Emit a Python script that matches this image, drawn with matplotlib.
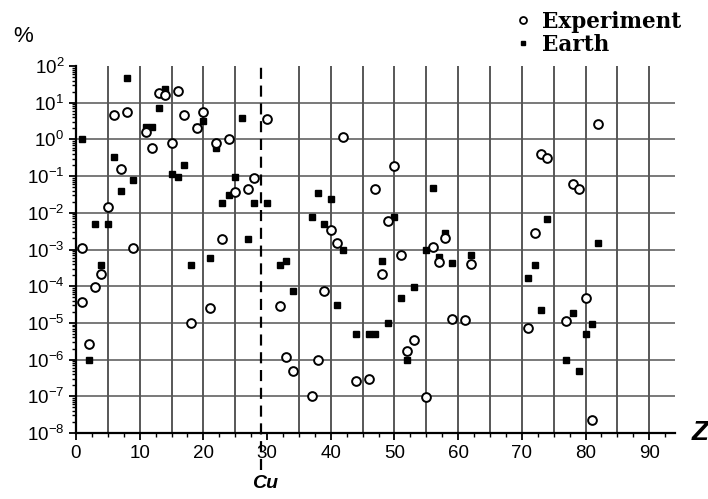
import matplotlib
matplotlib.use('Agg')
import matplotlib.pyplot as plt
import matplotlib.transforms as mtransforms
from matplotlib.lines import Line2D
from matplotlib.ticker import LogLocator, MultipleLocator, NullFormatter

plt.rcParams['font.family'] = ['Liberation Sans', 'DejaVu Sans']
plt.rcParams['mathtext.default'] = 'regular'

# [1] 데이터 : 원소번호 Z , 함량 %
exp_z = [1, 1, 2, 3, 4, 5, 6, 7, 8, 9, 11, 12, 13, 14, 15, 16, 17, 18, 19, 20,
         21, 22, 23, 24, 25, 27, 28, 30, 32, 33, 34, 37, 38, 39, 40, 41, 42,
         44, 46, 47, 48, 49, 50, 51, 52, 53, 55, 56, 57, 58, 59, 61, 62,
         71, 72, 73, 74, 77, 78, 79, 80, 81, 82]
exp_pct = [1.1e-3, 3.8e-5, 2.6e-6, 9.3e-5, 2.2e-4, 1.4e-2, 4.6, 0.16, 5.7, 1.1e-3,
           1.55, 0.59, 18.8, 16, 0.81, 21, 4.6, 1e-5, 2.0, 5.7,
           2.6e-5, 0.81, 1.9e-3, 1.0, 0.036, 0.044, 0.091, 3.6, 2.9e-5, 1.15e-6,
           5e-7, 1e-7, 1e-6, 7.5e-5, 3.4e-3, 1.5e-3, 1.2,
           2.6e-7, 3e-7, 0.045, 2.1e-4, 6e-3, 0.19, 7e-4, 1.7e-6, 3.5e-6,
           9.5e-8, 1.2e-3, 4.6e-4, 2.1e-3, 1.26e-5, 1.2e-5, 4e-4,
           7.1e-6, 2.9e-3, 0.40, 0.31, 1.1e-5, 0.061, 0.044, 4.7e-5, 2.3e-8, 2.6]

earth_z = [1, 2, 3, 4, 5, 6, 7, 8, 9, 11, 12, 13, 14, 15, 16, 17, 18, 19, 20,
           21, 22, 23, 24, 25, 26, 27, 28, 30, 32, 33, 34, 37, 38, 39, 40, 41,
           42, 44, 46, 47, 48, 49, 50, 51, 52, 53, 55, 56, 57, 58, 59, 62,
           71, 72, 73, 74, 77, 78, 79, 80, 81, 82]
earth_pct = [1.0, 1e-6, 4.9e-3, 3.8e-4, 4.9e-3, 0.34, 0.039, 48, 0.079, 2.2,
             2.2, 7, 24, 0.115, 0.095, 0.195, 3.7e-4, 2.2, 3.2,
             5.9e-4, 0.59, 0.019, 0.03, 0.095, 3.9, 1.9e-3, 0.019, 0.019, 3.8e-4,
             4.9e-4, 7.6e-5, 7.8e-3, 0.034, 4.9e-3, 0.024, 3.1e-5,
             1e-3, 4.9e-6, 4.9e-6, 4.9e-6, 4.9e-4, 9.8e-6, 7.8e-3, 4.9e-5, 9.8e-7,
             9.8e-5, 1e-3, 0.047, 6.3e-4, 2.8e-3, 4.4e-4, 7e-4,
             1.7e-4, 3.8e-4, 2.3e-5, 6.6e-3, 9.8e-7, 1.9e-5, 4.9e-7, 4.9e-6,
             9.3e-6, 1.5e-3]

x_ticks = [0, 10, 20, 30, 40, 50, 60, 70, 80, 90]
cu_z = 29

# [2] 시각화
fig = plt.figure(figsize=(7.08, 4.99), dpi=100)
ax = fig.add_axes([0.1073, 0.1323, 0.8457, 0.7354])

ax.set_yscale('log')
ax.set_xlim(0, 94)
ax.set_ylim(1e-8, 1e2)

# 격자
for x in range(5, 95, 5):
    if x == 30:
        continue
    ax.axvline(x, color='#2a2a2a', lw=1.1, zorder=1)
for e in range(-7, 2):
    ax.axhline(10.0 ** e, color='#555555', lw=1.1, zorder=1)

# Cu 점선
trans = mtransforms.blended_transform_factory(ax.transData, ax.transAxes)
ax.plot([cu_z, cu_z], [-0.1, 1.0], transform=trans, color='black', lw=1.6,
        ls=(0, (5, 3)), clip_on=False, zorder=2)

ax.plot(exp_z, exp_pct, 'o', ms=6.3, mfc='white', mec='black', mew=1.4,
        ls='none', zorder=4)
ax.plot(earth_z, earth_pct, 's', ms=4.2, mfc='black', mec='black',
        ls='none', zorder=3)

for s in ['top', 'right']:
    ax.spines[s].set_visible(False)
ax.spines['left'].set_linewidth(1.6)
ax.spines['bottom'].set_linewidth(1.6)

ax.set_xticks(x_ticks)
ax.xaxis.set_minor_locator(MultipleLocator(2.5))
ax.yaxis.set_major_locator(LogLocator(base=10, numticks=20))
ax.yaxis.set_minor_locator(LogLocator(base=10, subs=range(2, 10), numticks=20))
ax.yaxis.set_minor_formatter(NullFormatter())
ax.tick_params(axis='both', which='major', labelsize=13.5, direction='out',
               length=5, width=1.3, colors='black')
ax.tick_params(axis='both', which='minor', direction='out', length=3, width=1.0)
ax.tick_params(axis='x', which='major', pad=4)

# 텍스트
fig.text(23 / 708, 1 - 36 / 499, '%', fontsize=16, ha='center', va='center')
fig.text(700 / 708, 1 - 433 / 499, 'Z', fontsize=20, fontweight='bold',
         style='italic', ha='center', va='center')
fig.text(265 / 708, 1 - 483 / 499, 'Cu', fontsize=14, fontweight='bold',
         style='italic', ha='center', va='center')

handles = [Line2D([], [], marker='o', ls='none', ms=5, mfc='white', mec='black', mew=1.3),
           Line2D([], [], marker='s', ls='none', ms=3.5, mfc='black', mec='black')]
fig.legend(handles, ['Experiment', 'Earth'], loc='upper left',
           bbox_to_anchor=(505 / 708, 1 - 0 / 499), frameon=False,
           handlelength=0.7, handletextpad=0.5, labelspacing=0.05,
           borderpad=0, prop={'family': 'DejaVu Serif', 'weight': 'bold', 'size': 15.5})

fig.savefig('out.png', dpi=100)
